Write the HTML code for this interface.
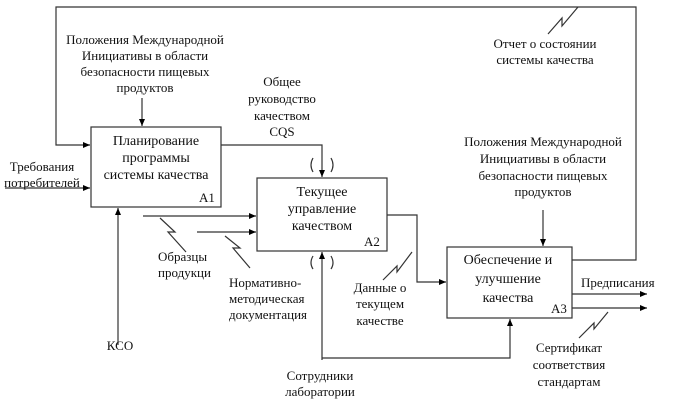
<!DOCTYPE html>
<html><head><meta charset="utf-8"><style>
body{margin:0;background:#fff}
svg text{font-family:"Liberation Serif","DejaVu Serif",serif;font-size:13px;fill:#111}
.b{font-size:14px}
</style></head><body>
<svg width="680" height="407" viewBox="0 0 680 407" xmlns="http://www.w3.org/2000/svg">
<defs><marker id="a" markerWidth="8" markerHeight="8" refX="7" refY="3" orient="auto" markerUnits="userSpaceOnUse"><path d="M0,0 L7,3 L0,6z" fill="#000"/></marker></defs>
<g fill="none" stroke="#333" stroke-width="1.2">
<rect x="91" y="127" width="130" height="80" fill="#fff"/>
<rect x="257" y="178" width="130" height="73" fill="#fff"/>
<rect x="447" y="247" width="125" height="71" fill="#fff"/>
<path d="M572,260 H636 V7 H56 V145 H90" marker-end="url(#a)"/>
<path d="M142,98 V126" marker-end="url(#a)"/>
<path d="M221,145 H322 V177" marker-end="url(#a)"/>
<path d="M5,188 H90" marker-end="url(#a)"/>
<path d="M118,345 V208" marker-end="url(#a)"/>
<path d="M143,216 H256" marker-end="url(#a)"/>
<path d="M197,232 H256" marker-end="url(#a)"/>
<path d="M387,215 H417 V282 H446" marker-end="url(#a)"/>
<path d="M322,360 V252" marker-end="url(#a)"/>
<path d="M322,358 H510 V319" marker-end="url(#a)"/>
<path d="M543,210 V246" marker-end="url(#a)"/>
<path d="M572,294 H647" marker-end="url(#a)"/>
<path d="M572,308 H647" marker-end="url(#a)"/>
<path d="M313,158 Q309,165 313,172 M331,158 Q335,165 331,172"/>
<path d="M313,256 Q309,263 313,269 M331,256 Q335,263 331,269"/>
<path d="M160,218 L175,232 L168,232 L186,252"/>
<path d="M225,236 L240,248 L233,248 L250,268"/>
<path d="M383,280 L397,266 L397,272 L412,252"/>
<path d="M579,338 L594,323 L594,329 L608,312"/>
<path d="M548,34 L562,18 L562,26 L578,7"/>
</g>
<g text-anchor="middle">
<text x="145" y="44">Положения Международной</text>
<text x="145" y="60">Инициативы в области</text>
<text x="145" y="76">безопасности пищевых</text>
<text x="145" y="92">продуктов</text>
<text x="282" y="86">Общее</text>
<text x="282" y="103">руководство</text>
<text x="282" y="120">качеством</text>
<text x="282" y="136">CQS</text>
<text class="b" x="156" y="145">Планирование</text>
<text class="b" x="156" y="162">программы</text>
<text class="b" x="156" y="179">системы качества</text>
<text x="207" y="202">А1</text>
<text x="42" y="171">Требования</text>
<text x="42" y="187">потребителей</text>
<text class="b" x="322" y="196">Текущее</text>
<text class="b" x="322" y="213">управление</text>
<text class="b" x="322" y="230">качеством</text>
<text x="372" y="246">А2</text>
<text x="545" y="48">Отчет о состоянии</text>
<text x="545" y="64">системы качества</text>
<text x="543" y="146">Положения Международной</text>
<text x="543" y="163">Инициативы в области</text>
<text x="543" y="180">безопасности пищевых</text>
<text x="543" y="196">продуктов</text>
<text class="b" x="508" y="264">Обеспечение и</text>
<text class="b" x="508" y="283">улучшение</text>
<text class="b" x="508" y="302">качества</text>
<text x="559" y="313">А3</text>
<text x="569" y="352">Сертификат</text>
<text x="569" y="369">соответствия</text>
<text x="569" y="386">стандартам</text>
<text x="380" y="292">Данные о</text>
<text x="380" y="308">текущем</text>
<text x="380" y="325">качестве</text>
<text x="120" y="350">КСО</text>
<text x="320" y="380">Сотрудники</text>
<text x="320" y="396">лаборатории</text>
</g>
<text x="581" y="287">Предписания</text>
<text x="158" y="261">Образцы</text>
<text x="158" y="277">продукци</text>
<text x="229" y="287">Нормативно-</text>
<text x="229" y="303">методическая</text>
<text x="229" y="319">документация</text>
</svg>
</body></html>
